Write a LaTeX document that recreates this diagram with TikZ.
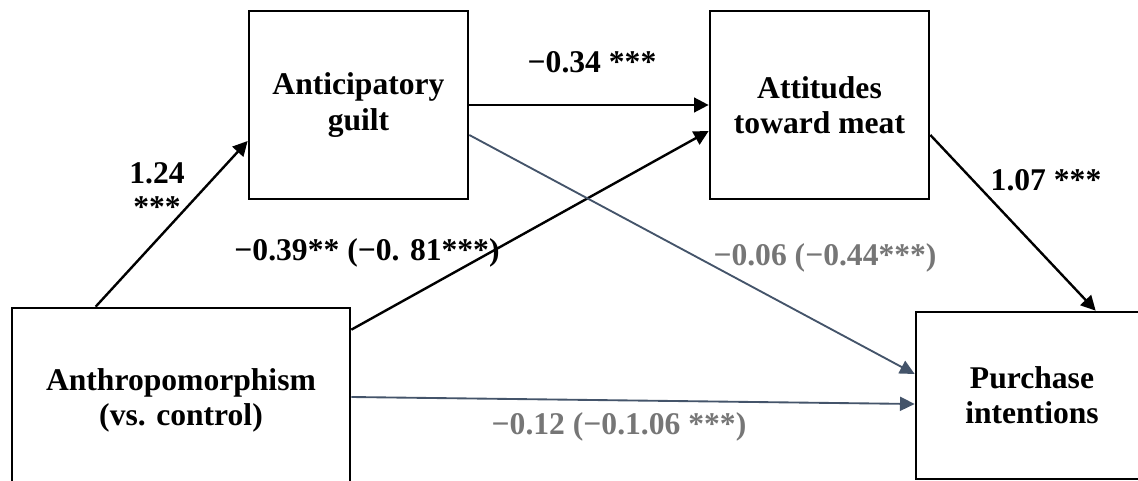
\documentclass[tikz,border=0pt]{standalone}
\usepackage{fontspec}
\setmainfont{Liberation Serif}
\usetikzlibrary{arrows.meta,calc}
\definecolor{edgeblue}{HTML}{44546A}
\definecolor{labgray}{RGB}{118,118,118}
\tikzset{
  box/.style={draw=black, line width=2pt, fill=white, align=center,
    font=\fontsize{23.7pt}{26.3pt}\selectfont\bfseries, inner sep=0pt},
  blackarrow/.style={draw=black, line width=1.8pt, -{Triangle[length=11pt,width=11pt]}},
  bluearrow/.style={draw=edgeblue, line width=1.4pt, -{Triangle[length=11pt,width=10.5pt]}},
  lab/.style={align=center, inner sep=0pt, font=\fontsize{23.7pt}{25.5pt}\selectfont\bfseries},
  graylab/.style={lab, text=labgray}
}
\begin{document}
\begin{tikzpicture}[x=0.75pt,y=-0.75pt]
\useasboundingbox (0,0) rectangle (1138,481);
\clip (0,0) rectangle (1138,481);
% boxes
\node[box, minimum width=164.25pt, minimum height=141pt] (guilt) at (358.5,105) {Anticipatory\\guilt};
\node[box, minimum width=164.25pt, minimum height=141pt] (att) at (819.5,105) {Attitudes\\toward meat};
\node[box, minimum width=253.5pt, minimum height=138pt] (anthro) at (181,400) {Anthropomorphism\\(vs. control)};
\node[box, minimum width=174pt, minimum height=125.25pt] (purch) at (1032,395.5) {Purchase\\intentions};
% connectors
\draw[blackarrow] ($(anthro.north west)+(85,0)$) -- ($(guilt.west)+(0,36)$);
\draw[blackarrow] (guilt.east) -- (att.west);
\draw[blackarrow] ($(anthro.north east)+(0,23)$) -- ($(att.west)+(0,26)$);
\draw[bluearrow] ($(guilt.east)+(0,30)$) -- ($(purch.west)+(0,-21.5)$);
\draw[bluearrow] ($(anthro.east)+(0,-3)$) -- ($(purch.west)+(0,8.5)$);
\draw[blackarrow] ($(att.east)+(0,30)$) -- ($(purch.north west)+(181,0)$);
% labels
\node[lab] (l124) at (157,190) {1.24\\***};
\node[lab] (l034) at (592,62) {−0.34 ***};
\node[lab] (l039) at (367,253) {−0.39** (−0. 81***)};
\node[graylab] (l006) at (825,258) {−0.06 (−0.44***)};
\node[graylab] (l012) at (619,427) {−0.12 (−0.1.06 ***)};
\node[lab] (l107) at (1046,180) {1.07 ***};
\end{tikzpicture}
\end{document}
